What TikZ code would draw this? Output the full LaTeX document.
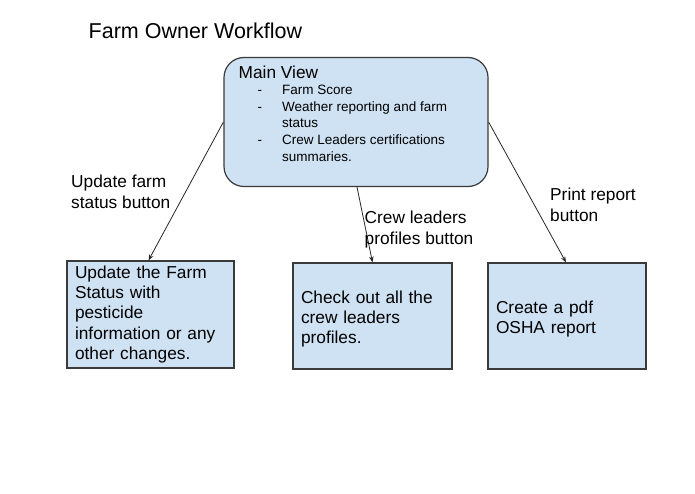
\documentclass[tikz,border=0pt]{standalone}
\usepackage{fontspec}
\setmainfont{Liberation Sans}
\usepackage{xcolor}
\usetikzlibrary{positioning, arrows.meta, calc}

\definecolor{boxblue}{HTML}{CFE2F3}
\definecolor{edgegray}{HTML}{3A3A3A}
\newcommand{\wftitle}{\fontsize{21.5}{25}\selectfont}
\newcommand{\wfbody}{\fontsize{17.3}{20.4}\selectfont}
\newcommand{\wfsmall}{\fontsize{13.5}{16.8}\selectfont}
\newcommand{\wftop}{\rule{0pt}{18.5pt}}

\begin{document}
\begin{tikzpicture}[
	x=1pt, y=-1pt,
	% --- STYLES ---
	mainblock/.style={
		rectangle, draw=edgegray, fill=boxblue, rounded corners=20pt, line width=1.2pt,
		minimum width=264pt, minimum height=129pt, inner sep=0pt
	},
	taskblock/.style={
		rectangle, draw=edgegray, fill=boxblue, line width=1.2pt,
		inner xsep=8pt, inner ysep=0pt, align=left, font=\wfbody
	},
	line/.style={
		draw=black!85, line width=0.8pt, -{Stealth[length=6pt, width=4.5pt]}
	},
	btnlabel/.style={
		anchor=north west, align=left, inner sep=0pt, font=\wfbody
	}
	]
	\useasboundingbox (0,0) rectangle (695,494);

	% ==========================================
	% 1. Title and main view
	% ==========================================
	\node [anchor=base west, inner sep=0pt, font=\wftitle] (title) at (88.5,38.7) {Farm Owner Workflow};

	\node [mainblock] (main) at (356,122) {};
	\node [anchor=base west, inner sep=0pt, font=\wfbody] (main_title) at (238.5,79) {Main View};
	\node [anchor=base west, inner sep=0pt, font=\wfsmall] (main_list) at (257.5,94.3) {%
		\begin{tabular}[t]{@{}p{24.5pt}@{}l@{}}
			- & Farm Score\\
			- & Weather reporting and farm\\
			  & status\\
			- & Crew Leaders certifications\\
			  & summaries.
		\end{tabular}};

	% ==========================================
	% 2. Task boxes
	% ==========================================
	\node [taskblock, text width=151pt, minimum height=107pt] (update) at (150.5,314.5)
		{Update the Farm\\Status with\\pesticide\\information or any\\other changes.};
	\node [taskblock, text width=143pt, minimum height=106pt] (profiles) at (372.5,316)
		{\wftop Check out all the\\crew leaders\\profiles.};
	\node [taskblock, text width=142pt, minimum height=106pt] (report) at (567,316)
		{\wftop Create a pdf\\OSHA report};

	% ==========================================
	% 3. Buttons (connectors)
	% ==========================================
	\draw [line] (main.west) -- ([xshift=-2pt]update.north);
	\draw [line] ([xshift=1pt]main.south) -- (profiles.north);
	\draw [line] (main.east) -- ([xshift=-1pt]report.north);

	\node [btnlabel] (lbl_update) at (71,175) {Update farm\\status button};
	\node [btnlabel] (lbl_profiles) at (364.5,211) {Crew leaders\\profiles button};
	\node [btnlabel] (lbl_report) at (550,188) {Print report\\button};
\end{tikzpicture}
\end{document}
